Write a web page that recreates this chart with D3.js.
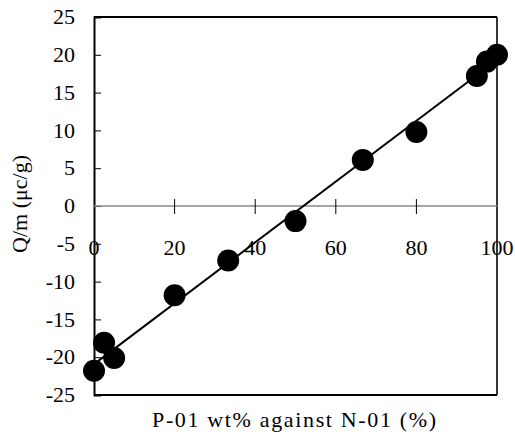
<!DOCTYPE html>
<html>
<head>
<meta charset="utf-8">
<script src="https://cdn.jsdelivr.net/npm/d3@7"></script>
<style>
  body { margin: 0; background: #fff; }
</style>
</head>
<body>
<svg id="chart" width="515" height="437"></svg>
<script>
// P-01 content (wt%) and measured charge (uc/g)
var pContent = [0, 2.5, 5, 20, 33.3, 50, 66.7, 80, 95, 97.5, 100];
var chargeQm = [-21.8, -18.1, -20.1, -11.8, -7.2, -2.0, 6.1, 9.8, 17.2, 19.1, 20.0];
var xTicks = [0, 20, 40, 60, 80, 100];
var yTicks = [-25, -20, -15, -10, -5, 0, 5, 10, 15, 20, 25];

var FONT = "'Liberation Serif', 'Times New Roman', serif";

var svg = d3.select('#chart');

var x = d3.scaleLinear().domain([0, 100]).range([94, 497]);
var y = d3.scaleLinear().domain([-25, 25]).range([395, 17]);

// frame (top, right, bottom)
svg.append('line')
	.attr('x1', x(0)).attr('x2', x(100))
	.attr('y1', y(25)).attr('y2', y(25))
	.attr('stroke', '#000').attr('stroke-width', 2);
svg.append('line')
	.attr('x1', x(100)).attr('x2', x(100))
	.attr('y1', y(25)).attr('y2', y(-25))
	.attr('stroke', '#222').attr('stroke-width', 1.8);
svg.append('line')
	.attr('x1', x(0)).attr('x2', x(100))
	.attr('y1', y(-25)).attr('y2', y(-25))
	.attr('stroke', '#000').attr('stroke-width', 2);

// y axis: inward ticks, labels on the left
var yAxis = d3.axisRight(y).tickValues(yTicks).tickSize(7).tickFormat('');
var gy = svg.append('g').attr('transform', 'translate(' + x(0) + ',0)').call(yAxis);
gy.select('.domain').attr('stroke', '#000').attr('stroke-width', 2);
gy.selectAll('.tick line').attr('stroke', '#000');

svg.selectAll('.ylab')
	.data(yTicks)
	.enter().append('text')
	.attr('class', 'ylab')
	.attr('x', 75)
	.attr('y', function(d) { return y(d); })
	.attr('dy', '0.33em')
	.attr('text-anchor', 'end')
	.style('font-family', FONT)
	.style('font-size', '22px')
	.text(function(d) { return d; });

// x axis along Q/m = 0, ticks cross the line
var gx = svg.append('g').attr('transform', 'translate(0,' + y(0) + ')');
gx.append('line')
	.attr('x1', x(0)).attr('x2', x(100))
	.attr('stroke', '#888').attr('stroke-width', 1.5);
gx.selectAll('.xtick')
	.data(xTicks.slice(1, -1))
	.enter().append('line')
	.attr('class', 'xtick')
	.attr('x1', function(d) { return x(d); })
	.attr('x2', function(d) { return x(d); })
	.attr('y1', -7).attr('y2', 8)
	.attr('stroke', '#000').attr('stroke-width', 1);

svg.selectAll('.xlab')
	.data(xTicks)
	.enter().append('text')
	.attr('class', 'xlab')
	.attr('x', function(d) { return x(d); })
	.attr('y', y(0) + 49)
	.attr('text-anchor', 'middle')
	.style('font-family', FONT)
	.style('font-size', '22px')
	.text(function(d) { return d; });

// least squares trend line
var n = pContent.length;
var mx = d3.mean(pContent), my = d3.mean(chargeQm);
var sxy = 0, sxx = 0;
for (var i = 0; i < n; i++) {
	sxy += (pContent[i] - mx) * (chargeQm[i] - my);
	sxx += (pContent[i] - mx) * (pContent[i] - mx);
}
var slope = sxy / sxx;
var intercept = my - slope * mx;

svg.append('line')
	.attr('x1', x(0)).attr('y1', y(intercept))
	.attr('x2', x(100)).attr('y2', y(intercept + slope * 100))
	.attr('stroke', '#000').attr('stroke-width', 2);

// data points
svg.selectAll('.pt')
	.data(d3.zip(pContent, chargeQm))
	.enter().append('circle')
	.attr('class', 'pt')
	.attr('cx', function(d) { return x(d[0]); })
	.attr('cy', function(d) { return y(d[1]); })
	.attr('r', 11)
	.attr('fill', '#000');

// axis titles
svg.append('text')
	.attr('x', 152)
	.attr('y', 427)
	.attr('textLength', 284)
	.attr('lengthAdjust', 'spacing')
	.style('font-family', FONT)
	.style('font-size', '22px')
	.text('P-01 wt% against N-01 (%)');

svg.append('text')
	.attr('transform', 'translate(27,204) rotate(-90)')
	.attr('text-anchor', 'middle')
	.style('font-family', FONT)
	.style('font-size', '22px')
	.text('Q/m (\u03bcc/g)');
</script>
</body>
</html>
